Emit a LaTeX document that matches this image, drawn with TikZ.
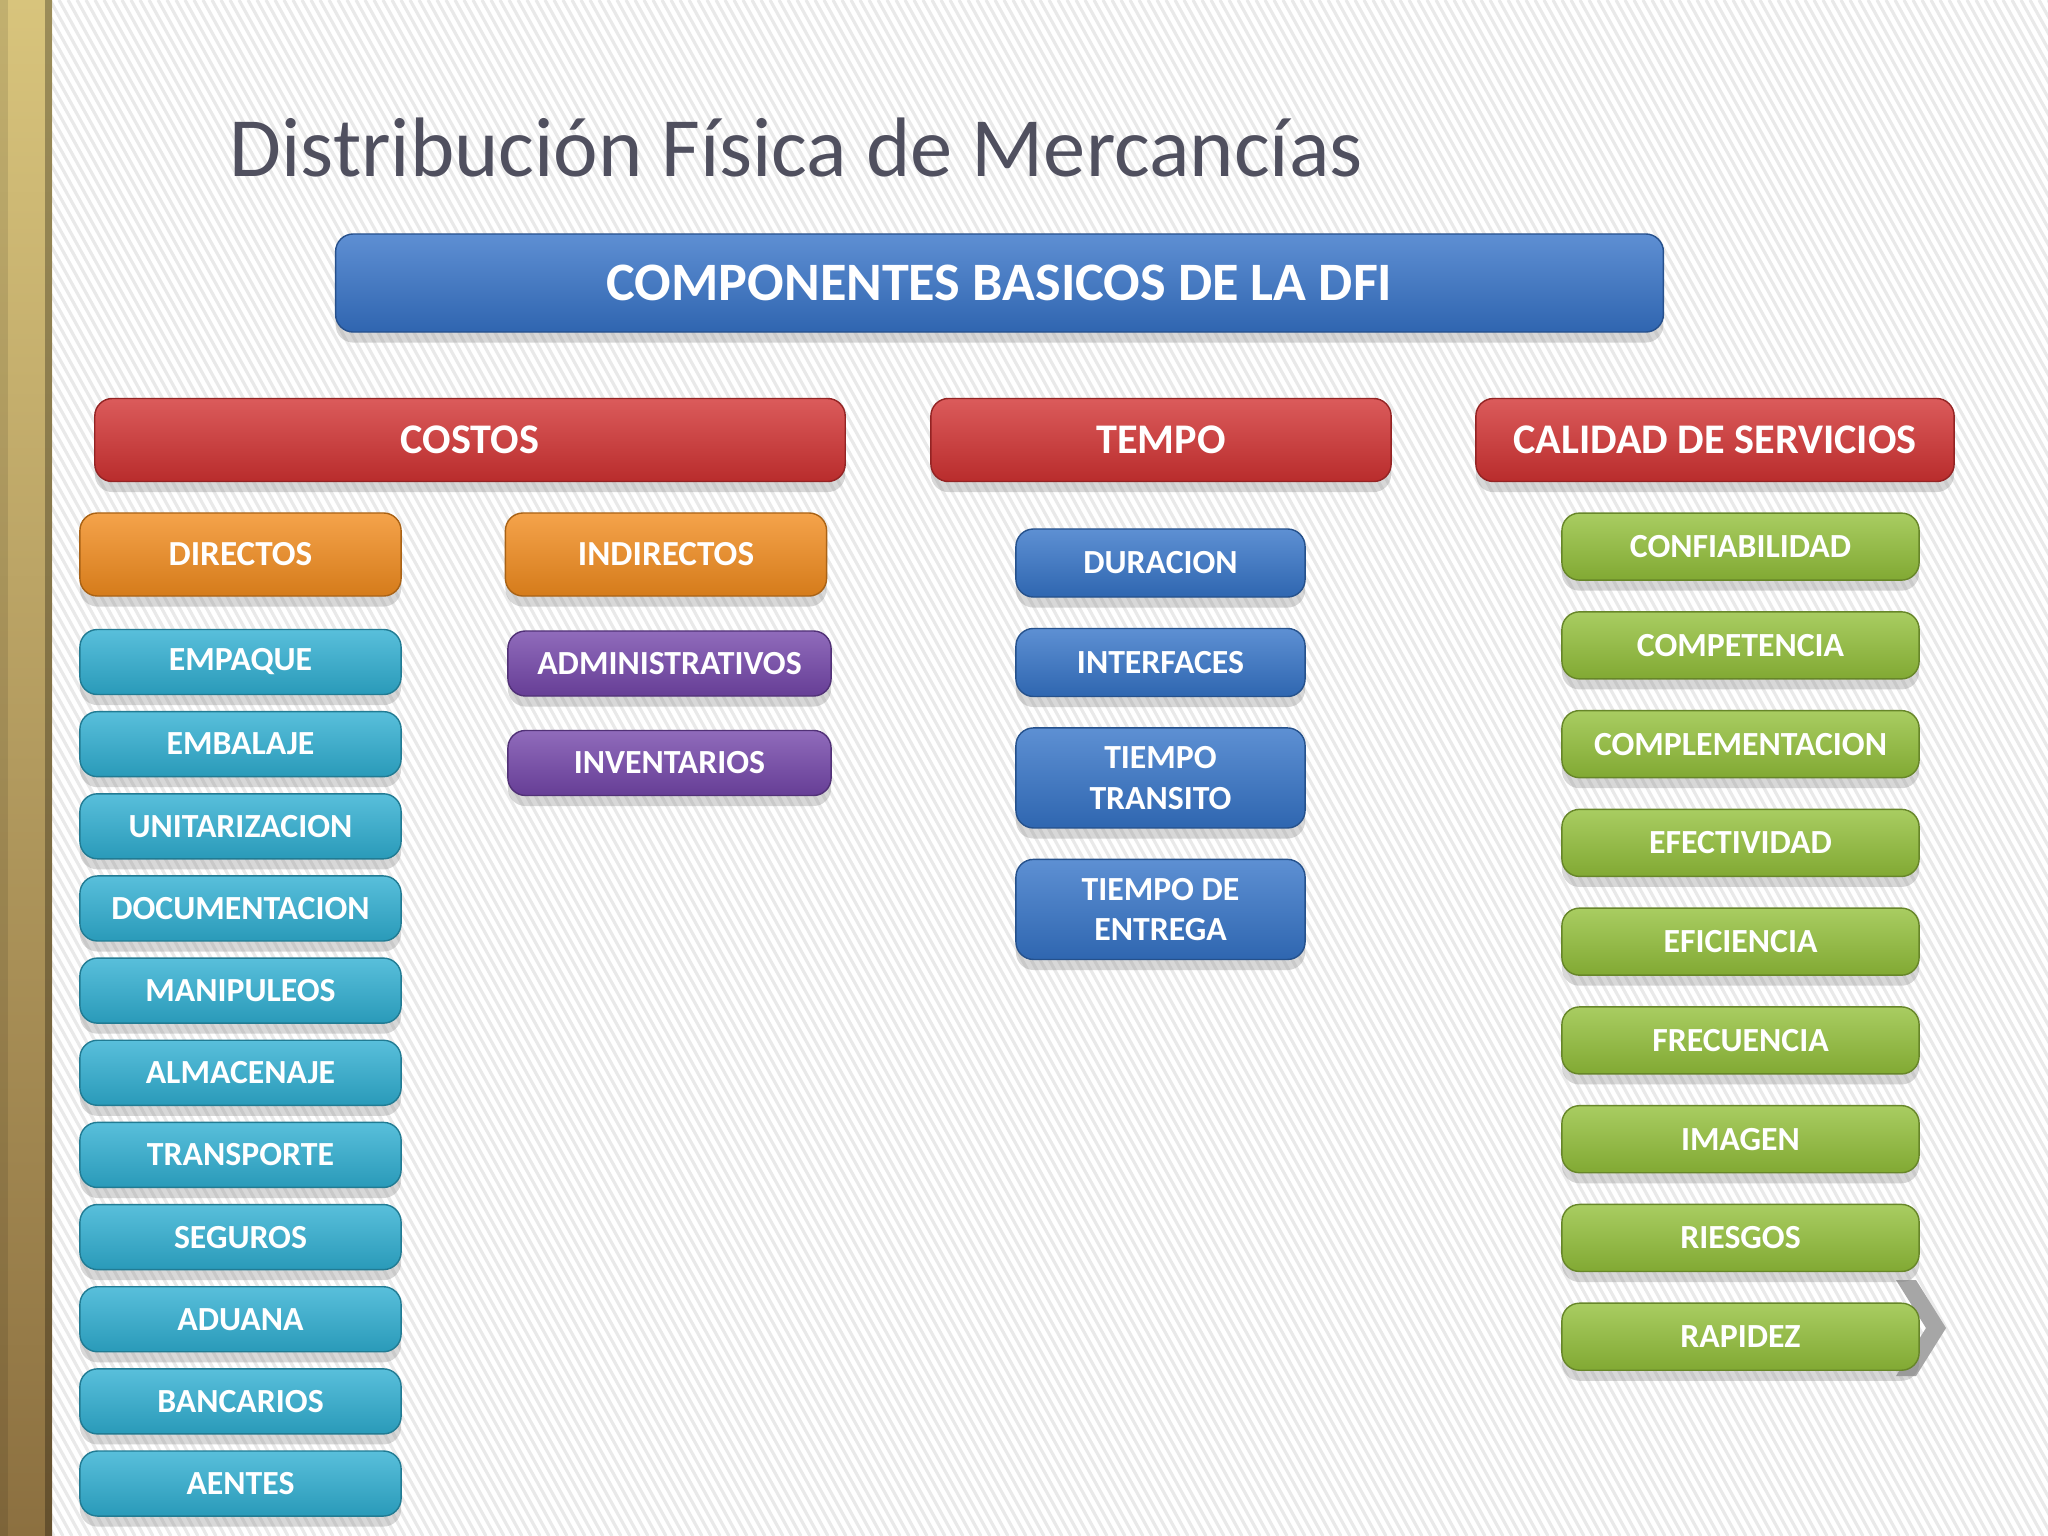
\documentclass[tikz,border=0pt]{standalone}
\usepackage{fontspec}
\setmainfont{Carlito}
\usetikzlibrary{positioning,shadows}

\definecolor{titlegray}{HTML}{50505F}
\definecolor{compblue}{HTML}{3673C8}
\definecolor{headred}{HTML}{D23232}
\definecolor{costorange}{HTML}{F28C1E}
\definecolor{itemcyan}{HTML}{2FAFD2}
\definecolor{itempurple}{HTML}{7446AA}
\definecolor{itemblue}{HTML}{3574C8}
\definecolor{itemgreen}{HTML}{93C03A}

\begin{document}
\begin{tikzpicture}[x=0.01cm,y=-0.01cm,
			box node/.style={rectangle,rounded corners=5pt,draw=#1!70!black,thin,
				top color=#1!80!white,bottom color=#1!88!black,text=white,align=center,inner sep=0pt,
				drop shadow={opacity=.3,shadow xshift=0pt,shadow yshift=-3pt}},
			head node/.style={box node=headred,minimum height=0.83cm,font=\bfseries\fontsize{12}{14}\selectfont},
			sub node/.style={box node=#1,minimum height=0.65cm,font=\bfseries\fontsize{9.6}{11.5}\selectfont},
			orange node/.style={sub node=costorange,minimum width=3.21cm,minimum height=0.83cm,font=\bfseries\fontsize{10}{12}\selectfont},
			cyan node/.style={sub node=itemcyan,minimum width=3.21cm},
			purple node/.style={sub node=itempurple,minimum width=3.23cm},
			blue node/.style={sub node=itemblue,minimum width=2.89cm,minimum height=0.68cm},
			green node/.style={sub node=itemgreen,minimum width=3.57cm,minimum height=0.67cm},
			stripe/.style={gray!17,line width=0.9pt}]
			
			% fondo
			\useasboundingbox (0,0) rectangle (2048,1536);
			\fill[white] (0,0) rectangle (2048,1536);
			\begin{scope}
				\clip (52,0) rectangle (2048,1536);
				\foreach \i in {-850,-841,...,2048}
				\draw[stripe] (\i,0) -- (\i+850,1536);
			\end{scope}
			\shade[top color={rgb,255:red,216;green,196;blue,124},middle color={rgb,255:red,214;green,176;blue,40},
				bottom color={rgb,255:red,140;green,112;blue,64}] (0,0) rectangle (52,1536);
			\fill[black,opacity=.1] (0,0) rectangle (8,1536);
			\fill[black,opacity=.28] (45,0) rectangle (52,1536);
			\fill[gray!70] (1896,1280) -- (1916,1280) -- (1946,1328) -- (1916,1376) -- (1896,1376) -- (1926,1328) -- cycle;
			
			\node[anchor=base west,inner sep=0pt,text=titlegray,font=\fontsize{24}{28}\selectfont] (Title) at (229,176) {Distribución Física de Mercancías};
			
			\node[box node=compblue,minimum width=13.27cm,minimum height=0.98cm,font=\bfseries\fontsize{15.4}{18}\selectfont] (Comp) at (999.5,283) {COMPONENTES BASICOS DE LA DFI};
			
			\node[head node,minimum width=7.5cm] (Costos) at (470,440) {COSTOS};
			\node[head node,minimum width=4.6cm] (Tempo) at (1161,440) {TEMPO};
			\node[head node,minimum width=4.78cm] (Calidad) at (1715,440) {CALIDAD DE SERVICIOS};
			
			\node[orange node] (Directos) at (240.5,554.5) {DIRECTOS};
			\node[orange node] (Indirectos) at (666,554.5) {INDIRECTOS};
			
			\node[cyan node] (Empaque) at (240.5,662) {EMPAQUE};
			\node[cyan node] (Embalaje) [below=0.157cm of Empaque] {EMBALAJE};
			\node[cyan node] (Unitar) [below=0.157cm of Embalaje] {UNITARIZACION};
			\node[cyan node] (Docum) [below=0.157cm of Unitar] {DOCUMENTACION};
			\node[cyan node] (Manip) [below=0.157cm of Docum] {MANIPULEOS};
			\node[cyan node] (Almac) [below=0.157cm of Manip] {ALMACENAJE};
			\node[cyan node] (Transp) [below=0.157cm of Almac] {TRANSPORTE};
			\node[cyan node] (Seguros) [below=0.157cm of Transp] {SEGUROS};
			\node[cyan node] (Aduana) [below=0.157cm of Seguros] {ADUANA};
			\node[cyan node] (Bancarios) [below=0.157cm of Aduana] {BANCARIOS};
			\node[cyan node] (Aentes) [below=0.157cm of Bancarios] {AENTES};
			
			\node[purple node] (Admin) at (669.5,663.5) {ADMINISTRATIVOS};
			\node[purple node] (Invent) [below=0.33cm of Admin] {INVENTARIOS};
			
			\node[blue node] (Duracion) at (1160.5,563) {DURACION};
			\node[blue node] (Interf) [below=0.3cm of Duracion] {INTERFACES};
			\node[blue node,minimum height=1cm] (Transito) [below=0.3cm of Interf] {TIEMPO\\TRANSITO};
			\node[blue node,minimum height=1cm] (Entrega) [below=0.3cm of Transito] {TIEMPO DE\\ENTREGA};
			
			\node[green node] (Confiab) at (1740.5,546.6) {CONFIABILIDAD};
			\node[green node] (Compet) [below=0.303cm of Confiab] {COMPETENCIA};
			\node[green node] (Complem) [below=0.303cm of Compet] {COMPLEMENTACION};
			\node[green node] (Efectiv) [below=0.303cm of Complem] {EFECTIVIDAD};
			\node[green node] (Eficien) [below=0.303cm of Efectiv] {EFICIENCIA};
			\node[green node] (Frecuen) [below=0.303cm of Eficien] {FRECUENCIA};
			\node[green node] (Imagen) [below=0.303cm of Frecuen] {IMAGEN};
			\node[green node] (Riesgos) [below=0.303cm of Imagen] {RIESGOS};
			\node[green node] (Rapidez) [below=0.303cm of Riesgos] {RAPIDEZ};
			\end{tikzpicture}
\end{document}
